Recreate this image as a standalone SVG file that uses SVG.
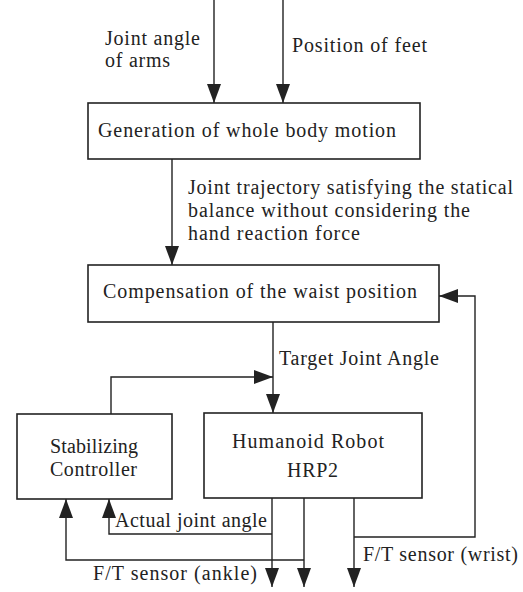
<svg xmlns="http://www.w3.org/2000/svg" width="523" height="592" viewBox="0 0 523 592">
<style>
.bg{fill:#fff}
.box{fill:#fff;stroke:#222;stroke-width:1.6}
.ln{fill:none;stroke:#222;stroke-width:1.4}
.t{font-family:"Liberation Serif","Times New Roman",serif;font-size:20px;fill:#222}
</style>
<defs>
<marker id="ah" markerUnits="userSpaceOnUse" markerWidth="20" markerHeight="15" refX="19" refY="7" orient="auto">
<path d="M0,0 L19,7 L0,14 z" fill="#222"/>
</marker>
</defs>
<rect class="bg" width="523" height="592"/>
<g id="connectors">
<path class="ln" d="M214,0 V103" marker-end="url(#ah)"/>
<path class="ln" d="M283,0 V103" marker-end="url(#ah)"/>
<path class="ln" d="M172,159 V265" marker-end="url(#ah)"/>
<path class="ln" d="M273,322 V413" marker-end="url(#ah)"/>
<path class="ln" d="M111,414 V377 H273" marker-end="url(#ah)"/>
<path class="ln" d="M272,498 V587" marker-end="url(#ah)"/>
<path class="ln" d="M272,534 H109 V499" marker-end="url(#ah)"/>
<path class="ln" d="M304,498 V587" marker-end="url(#ah)"/>
<path class="ln" d="M304,560 H66 V499" marker-end="url(#ah)"/>
<path class="ln" d="M354,498 V587" marker-end="url(#ah)"/>
<path class="ln" d="M354,537 H475 V296 H439" marker-end="url(#ah)"/>
<text class="t" x="105" y="45" textLength="95" lengthAdjust="spacing">Joint angle</text>
<text class="t" x="105" y="67" textLength="65" lengthAdjust="spacing">of arms</text>
<text class="t" x="292" y="52" textLength="135" lengthAdjust="spacing">Position of feet</text>
<text class="t" x="188" y="194" textLength="325" lengthAdjust="spacing">Joint trajectory satisfying the statical</text>
<text class="t" x="188" y="217" textLength="282" lengthAdjust="spacing">balance without considering the</text>
<text class="t" x="188" y="240" textLength="172" lengthAdjust="spacing">hand reaction force</text>
<text class="t" x="279" y="365" textLength="160" lengthAdjust="spacing">Target Joint Angle</text>
<text class="t" x="115" y="527" textLength="152" lengthAdjust="spacing">Actual joint angle</text>
<text class="t" x="93" y="580" textLength="164" lengthAdjust="spacing">F/T sensor (ankle)</text>
<text class="t" x="363" y="561" textLength="155" lengthAdjust="spacing">F/T sensor (wrist)</text>
</g>
<g id="gen">
<rect class="box" x="88" y="103" width="332" height="56"/>
<text class="t" x="98" y="137" textLength="298" lengthAdjust="spacing">Generation of whole body motion</text>
</g>
<g id="comp">
<rect class="box" x="88" y="265" width="351" height="57"/>
<text class="t" x="103" y="298" textLength="314" lengthAdjust="spacing">Compensation of the waist position</text>
</g>
<g id="robot">
<rect class="box" x="204" y="413" width="218" height="85"/>
<text class="t" x="232" y="448" textLength="152" lengthAdjust="spacing">Humanoid Robot</text>
<text class="t" x="287" y="477" textLength="51" lengthAdjust="spacing">HRP2</text>
</g>
<g id="stab">
<rect class="box" x="17" y="414" width="155" height="85"/>
<text class="t" x="50" y="453" textLength="88" lengthAdjust="spacing">Stabilizing</text>
<text class="t" x="50" y="476" textLength="87" lengthAdjust="spacing">Controller</text>
</g>
</svg>
